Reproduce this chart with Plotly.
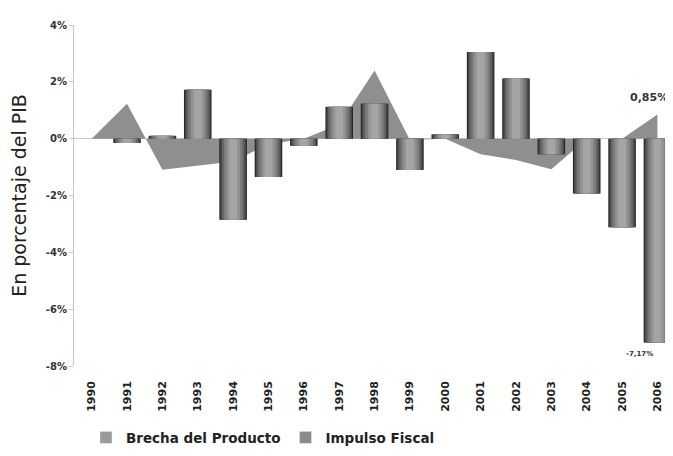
import plotly.graph_objects as go

years = [str(y) for y in range(1990, 2007)]
brecha_producto = [0.0, 1.23, -1.09, -0.95, -0.8, -0.2, 0.0, 0.5, 2.4, -0.05,
                   0.0, -0.55, -0.75, -1.08, 0.0, 0.0, 0.85]
impulso_fiscal = [0.0, -0.15, 0.1, 1.72, -2.85, -1.35, -0.25, 1.12, 1.23, -1.1,
                  0.15, 3.05, 2.12, -0.55, -1.93, -3.12, -7.17]
y_ticks = [-8, -6, -4, -2, 0, 2, 4]
y_ticktext = [f"{v}%" for v in y_ticks]
y_range = [-8, 4]

fig = go.Figure()

# Brecha del Producto (area) on the lower axis layer
fig.add_trace(go.Scatter(
    x=years, y=brecha_producto, mode="lines", fill="tozeroy",
    line=dict(width=0, color="#8f8f8f"), fillcolor="#8f8f8f",
    name="Brecha del Producto", showlegend=False, hoverinfo="x+y",
    xaxis="x", yaxis="y"))

# Impulso Fiscal bars on an overlaying axis (drawn above the area),
# layered to mimic cylinder shading
layers = [(0.78, "#262626"), (0.72, "#4a4a4a"), (0.63, "#656565"),
          (0.52, "#7d7d7d"), (0.38, "#939393"), (0.22, "#a5a5a5")]
for w, c in layers:
    fig.add_trace(go.Bar(
        x=years, y=impulso_fiscal, width=w, marker=dict(color=c, line=dict(width=0)),
        name="Impulso Fiscal", showlegend=False, hoverinfo="x+y",
        xaxis="x", yaxis="y2"))

# Legend entries
fig.add_trace(go.Bar(x=[None], y=[None], name="Brecha del Producto",
                     marker=dict(color="#9a9a9a"), showlegend=True))
fig.add_trace(go.Bar(x=[None], y=[None], name="Impulso Fiscal",
                     marker=dict(color="#8a8a8a"), showlegend=True))

def fmt(v):
    return f"{v:.2f}%".replace(".", ",")

last = len(years) - 1
fig.add_annotation(x=last, y=brecha_producto[-1], xref="x", yref="y",
                   text=fmt(brecha_producto[-1]),
                   showarrow=False, yshift=17, xshift=-8,
                   font=dict(family="DejaVu Sans", size=11, color="#333333", weight="bold"))
fig.add_annotation(x=last, y=impulso_fiscal[-1], xref="x", yref="y",
                   text=fmt(impulso_fiscal[-1]),
                   showarrow=False, yshift=-12, xshift=-18,
                   font=dict(family="DejaVu Sans", size=7, color="#333333", weight="bold"))

# The page body has an 8px default margin, so the figure is sized/margined to compensate
fig.update_layout(
    width=665, height=448,
    margin=dict(l=66, r=0, t=17, b=90),
    paper_bgcolor="white", plot_bgcolor="rgba(0,0,0,0)",
    barmode="overlay", bargap=0.22,
    showlegend=True,
    legend=dict(orientation="h", x=0.02, xanchor="left", y=-0.21, yanchor="middle",
                font=dict(family="DejaVu Sans", size=13.5, color="#222222", weight="bold"),
                itemwidth=30, traceorder="normal"),
    font=dict(family="DejaVu Sans"),
    xaxis=dict(
        type="category", range=[-0.5, 16.44], tickangle=-90, automargin=False,
        tickfont=dict(family="DejaVu Sans", size=11, color="#222222", weight="bold"),
        showline=False, showgrid=False, ticks="", ticklabelstandoff=12,
    ),
    yaxis=dict(
        range=y_range, tickvals=y_ticks, ticktext=y_ticktext, automargin=False,
        tickfont=dict(family="DejaVu Sans", size=10, color="#333333", weight="bold"),
        showline=True, linecolor="#c8c8c8", linewidth=1,
        ticks="outside", ticklen=4, tickcolor="#c8c8c8",
        showgrid=False, zeroline=True, zerolinecolor="#c8c8c8", zerolinewidth=1,
        title=dict(text="En porcentaje del PIB", standoff=14,
                   font=dict(family="DejaVu Sans", size=19, color="#222222")),
    ),
    yaxis2=dict(
        range=y_range, overlaying="y", side="left", showticklabels=False,
        showgrid=False, zeroline=False, showline=False, ticks="", automargin=False,
    ),
)

fig.write_html("out.html")
